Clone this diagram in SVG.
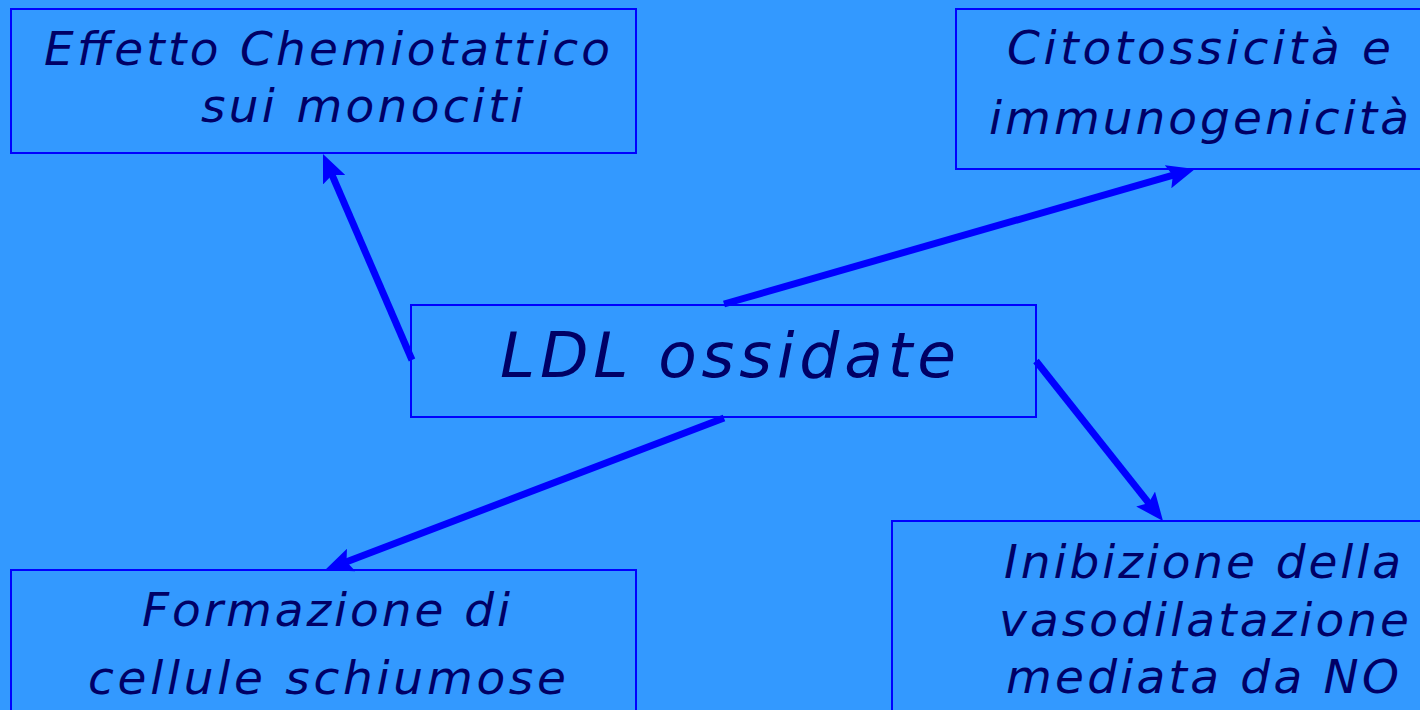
<svg xmlns="http://www.w3.org/2000/svg" width="1420" height="710" viewBox="0 0 1420 710">
<style>
.box{fill:#3399FF;stroke:#0000FF;stroke-width:2}
.t{font-family:"DejaVu Sans","Verdana",sans-serif;font-style:italic;fill:#000066;font-size:47px}
.big{font-size:63px}
.conn{stroke:#0000FF;stroke-width:7;fill:none;marker-end:url(#ah)}
</style>
<defs>
<marker id="ah" viewBox="0 0 28 24" refX="9" refY="12" markerWidth="28" markerHeight="24" markerUnits="userSpaceOnUse" orient="auto">
<path d="M0,0 L28,12 L0,24 L5,12 Z" fill="#0000FF"/>
</marker>
</defs>
<rect width="1420" height="710" fill="#3399FF"/>
<g id="node-effetto">
<rect class="box" x="11" y="9" width="625" height="144"/>
<text class="t" x="44" y="65" textLength="566" lengthAdjust="spacing">Effetto Chemiotattico</text>
<text class="t" x="201" y="122" textLength="322" lengthAdjust="spacing">sui monociti</text>
</g>
<g id="node-citotossicita">
<rect class="box" x="956" y="9" width="480" height="160"/>
<text class="t" x="1007" y="64" textLength="384" lengthAdjust="spacing">Citotossicità e</text>
<text class="t" x="989" y="134" textLength="420" lengthAdjust="spacing">immunogenicità</text>
</g>
<g id="node-ldl">
<rect class="box" x="411" y="305" width="625" height="112"/>
<text class="t big" x="500" y="377" textLength="456" lengthAdjust="spacing">LDL ossidate</text>
</g>
<g id="node-formazione">
<rect class="box" x="11" y="570" width="625" height="160"/>
<text class="t" x="142" y="626" textLength="368" lengthAdjust="spacing">Formazione di</text>
<text class="t" x="88" y="694" textLength="478" lengthAdjust="spacing">cellule schiumose</text>
</g>
<g id="node-inibizione">
<rect class="box" x="892" y="521" width="560" height="220"/>
<text class="t" x="1004" y="578" textLength="397" lengthAdjust="spacing">Inibizione della</text>
<text class="t" x="999" y="636" textLength="410" lengthAdjust="spacing">vasodilatazione</text>
<text class="t" x="1006" y="693" textLength="393" lengthAdjust="spacing">mediata da NO</text>
</g>
<g id="connectors">
<line class="conn" x1="412" y1="360" x2="330.5" y2="171.4"/>
<line class="conn" x1="724" y1="304" x2="1176.7" y2="174.2"/>
<line class="conn" x1="1036" y1="361" x2="1151.2" y2="506.1"/>
<line class="conn" x1="724" y1="418" x2="342.8" y2="563.2"/>
</g>
</svg>
